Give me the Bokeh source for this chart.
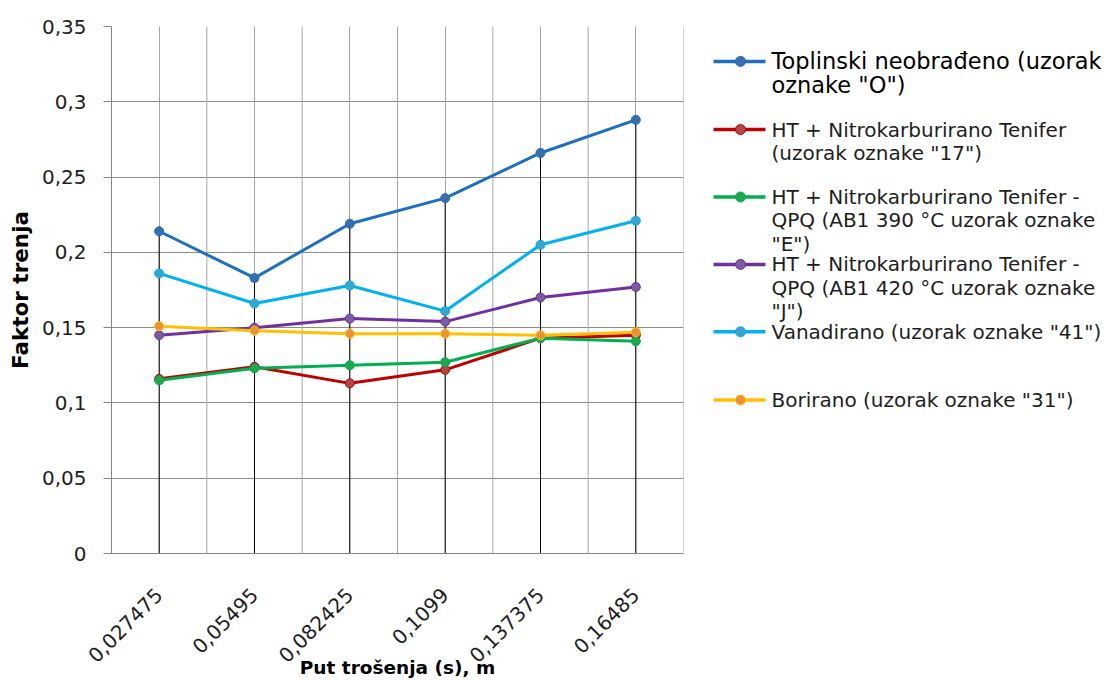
import math
from bokeh.plotting import figure
from bokeh.models import FactorRange, Range1d, FixedTicker, CustomJSTickFormatter
from bokeh.layouts import row
from bokeh.core.properties import value
from bokeh.embed import file_html
from bokeh.resources import INLINE

# ---------------- data ----------------
categories = ["0,027475", "0,05495", "0,082425", "0,1099", "0,137375", "0,16485"]

toplinski = [0.214, 0.183, 0.219, 0.236, 0.266, 0.288]
ht_17 = [0.116, 0.124, 0.113, 0.122, 0.143, 0.145]
qpq_390 = [0.115, 0.123, 0.125, 0.127, 0.143, 0.141]
qpq_420 = [0.145, 0.150, 0.156, 0.154, 0.170, 0.177]
vanadirano = [0.186, 0.166, 0.178, 0.161, 0.205, 0.221]
borirano = [0.151, 0.148, 0.146, 0.146, 0.145, 0.147]

y_ticks = [0, 0.05, 0.1, 0.15, 0.2, 0.25, 0.3, 0.35]

legend_labels = [
    ["Toplinski neobrađeno (uzorak", "oznake \"O\")"],
    ["HT + Nitrokarburirano Tenifer", "(uzorak oznake \"17\")"],
    ["HT + Nitrokarburirano Tenifer -", "QPQ (AB1 390 °C uzorak oznake", "\"E\")"],
    ["HT + Nitrokarburirano Tenifer -", "QPQ (AB1 420 °C uzorak oznake", "\"J\")"],
    ["Vanadirano (uzorak oznake \"41\")"],
    ["Borirano (uzorak oznake \"31\")"],
]

series = [toplinski, ht_17, qpq_390, qpq_420, vanadirano, borirano]
line_colors = ["#1F6FC0", "#C00000", "#00B050", "#7030A0", "#00B0F0", "#FFC000"]
marker_colors = ["#3A6DB0", "#B04848", "#20A850", "#7A5CA0", "#3AA4CB", "#E8923A"]

FONT = "DejaVu Sans"
TEXT_COLOR = "#1e1e1e"
H = 680

# ---------------- main plot ----------------
p = figure(
    x_range=FactorRange(factors=categories),
    y_range=Range1d(0, 0.35),
    width=708, height=H,
    output_backend="svg", toolbar_location=None,
    min_border_left=111, min_border_right=25,
    min_border_top=26, min_border_bottom=127,
)
p.outline_line_color = None
p.background_fill_color = "white"

# grid
p.ygrid.ticker = FixedTicker(ticks=y_ticks)
p.ygrid.grid_line_color = "#8c8c8c"
p.ygrid.grid_line_width = 1
p.xgrid.grid_line_color = "#a6a6a6"
p.xgrid.grid_line_width = 1

# category boundary grid lines (synthetic coordinates of the factor range)
bounds = list(range(len(categories) + 1))
p.segment(x0=bounds, y0=[y_ticks[0]] * len(bounds), x1=bounds, y1=[y_ticks[-1]] * len(bounds),
          line_color="#a6a6a6", line_width=1)

# drop lines
tops = [max(vals) for vals in zip(*series)]
p.segment(x0=categories, y0=[0] * len(categories), x1=categories, y1=tops,
          line_color="black", line_width=1)

for vals, lc, mc in zip(series, line_colors, marker_colors):
    p.line(categories, vals, line_color=lc, line_width=3)
    p.scatter(categories, vals, marker="circle", size=9, fill_color=mc, line_color=lc, line_width=1)

# axes
p.yaxis.ticker = FixedTicker(ticks=y_ticks)
p.yaxis.formatter = CustomJSTickFormatter(
    code="return (Math.round(tick*100)/100).toString().replace('.', ',');")
p.yaxis.axis_line_color = "#868686"
p.yaxis.major_tick_line_color = "#868686"
p.yaxis.major_tick_out = 8
p.yaxis.major_tick_in = 0
p.yaxis.minor_tick_line_color = None
p.yaxis.major_label_standoff = 17
p.yaxis.major_label_text_font = FONT
p.yaxis.major_label_text_font_size = "20px"
p.yaxis.major_label_text_color = TEXT_COLOR
p.yaxis.axis_label = "Faktor trenja"
p.yaxis.axis_label_text_font = FONT
p.yaxis.axis_label_text_font_size = "21.5px"
p.yaxis.axis_label_text_font_style = "bold"
p.yaxis.axis_label_text_color = "black"
p.yaxis.axis_label_standoff = 6

p.xaxis.axis_line_color = "#868686"
p.xaxis.major_tick_line_color = None
p.xaxis.minor_tick_line_color = None
p.xaxis.major_label_orientation = math.pi / 4
p.xaxis.major_label_standoff = 32
p.xaxis.major_label_text_font = FONT
p.xaxis.major_label_text_font_size = "20px"
p.xaxis.major_label_text_color = TEXT_COLOR
p.xaxis.axis_label = "Put trošenja (s), m"
p.xaxis.axis_label_text_font = FONT
p.xaxis.axis_label_text_font_size = "18.5px"
p.xaxis.axis_label_text_font_style = "bold"
p.xaxis.axis_label_text_color = "black"
p.xaxis.axis_label_standoff = -15

# ---------------- legend panel ----------------
lg = figure(
    x_range=Range1d(0, 400), y_range=Range1d(H, 0),
    width=400, height=H,
    output_backend="svg", toolbar_location=None,
    min_border_left=0, min_border_right=0, min_border_top=0, min_border_bottom=0,
)
lg.axis.visible = False
lg.grid.visible = False
lg.outline_line_color = None

entry_tops = [45, 133, 220, 307, 394, 482]
for i, (lines, lc, mc, ey) in enumerate(zip(legend_labels, line_colors, marker_colors, entry_tops)):
    lg.segment(x0=[5], y0=[ey], x1=[57], y1=[ey], line_color=lc, line_width=3.5)
    lg.scatter([32], [ey], marker="circle", size=10, fill_color=mc, line_color=lc, line_width=1)
    spacing = 31 if i == 0 else 30
    ys = [ey + k * spacing for k in range(len(lines))]
    lg.text(x=[63] * len(lines), y=ys, text=lines,
            text_font=value(FONT),
            text_font_size="22.5px" if i == 0 else "20px",
            text_color="black" if i == 0 else TEXT_COLOR,
            text_align="left", text_baseline="middle")

layout = row(p, lg)
open("out.html", "w").write(file_html(layout, INLINE))
